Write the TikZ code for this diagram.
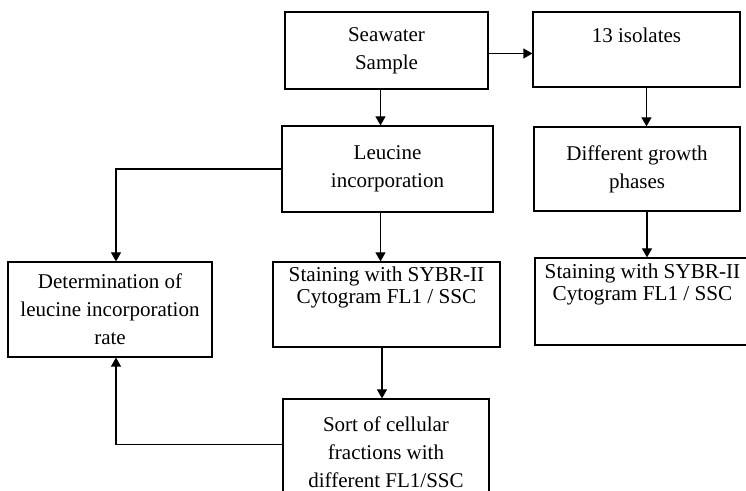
\documentclass[tikz,border=0pt]{standalone}
\usepackage{fontspec}
\setmainfont{Liberation Serif}
\usetikzlibrary{arrows.meta}

\begin{document}
\begin{tikzpicture}[x=0.5pt, y=-0.5pt,
		box/.style={draw=black, line width=0.6pt, inner sep=0pt, align=center, font=\fontsize{10.5}{14}\selectfont},
		tightbox/.style={box, font=\fontsize{10.6}{11}\selectfont},
		link/.style={black, line width=0.6pt, ->},
		>={Triangle[length=4.5pt, width=5pt]}]
		
		\useasboundingbox (0,0) rectangle (746,491);
		\clip (0,0) rectangle (746,491);
		
		% top row
		\node[box, minimum width=101.5pt, minimum height=38.5pt] (sea) at (386.5,50.5) {Seawater\\Sample};
		\node[box, minimum width=103.5pt, minimum height=37.5pt] (iso) at (636.5,49.5) {13 isolates\\\mbox{}};
		
		% second row
		\node[box, minimum width=105.5pt, minimum height=43pt] (leu) at (387.5,169) {Leucine\\incorporation};
		\node[box, minimum width=103pt, minimum height=42pt] (gro) at (637,169) {Different growth\\phases};
		
		% third row
		\node[box, minimum width=102pt, minimum height=47.5pt] (det) at (110,309.5) {Determination of\\leucine incorporation\\rate};
		\node[tightbox, minimum width=113.5pt, minimum height=42.5pt] (stn) at (386.5,304.5) {Staining with SYBR-II\\Cytogram FL1 / SSC\\[8pt]\mbox{}};
		\node[tightbox, minimum width=107.5pt, minimum height=43.5pt] (stniso) at (642.5,301.5) {Staining with SYBR-II\\Cytogram FL1 / SSC\\[8pt]\mbox{}};
		
		% bottom
		\node[box, minimum width=103pt, minimum height=53.5pt] (srt) at (386,452.5) {Sort of cellular\\fractions with\\different FL1/SSC};
		
		\draw[link] ([yshift=-1.5pt]sea.east) -- ([yshift=-1.5pt]sea.east -| iso.west);
		\draw[link] ([xshift=-3pt]sea.south) -- ([xshift=-3pt]sea.south |- leu.north);
		\draw[link] ([xshift=5pt]iso.south) -- ([xshift=5pt]iso.south |- gro.north);
		\draw[link] (leu.west) -| ([xshift=3pt]det.north);
		\draw[link] ([xshift=-3.5pt]leu.south) -- ([xshift=-3.5pt]leu.south |- stn.north);
		\draw[link] ([xshift=5pt]gro.south) -- ([xshift=5pt]gro.south |- stniso.north);
		\draw[link] ([xshift=-2.25pt]stn.south) -- ([xshift=-2.25pt]stn.south |- srt.north);
		\draw[link] ([yshift=4pt]srt.west) -| ([xshift=3pt]det.south);
		
\end{tikzpicture}
\end{document}
